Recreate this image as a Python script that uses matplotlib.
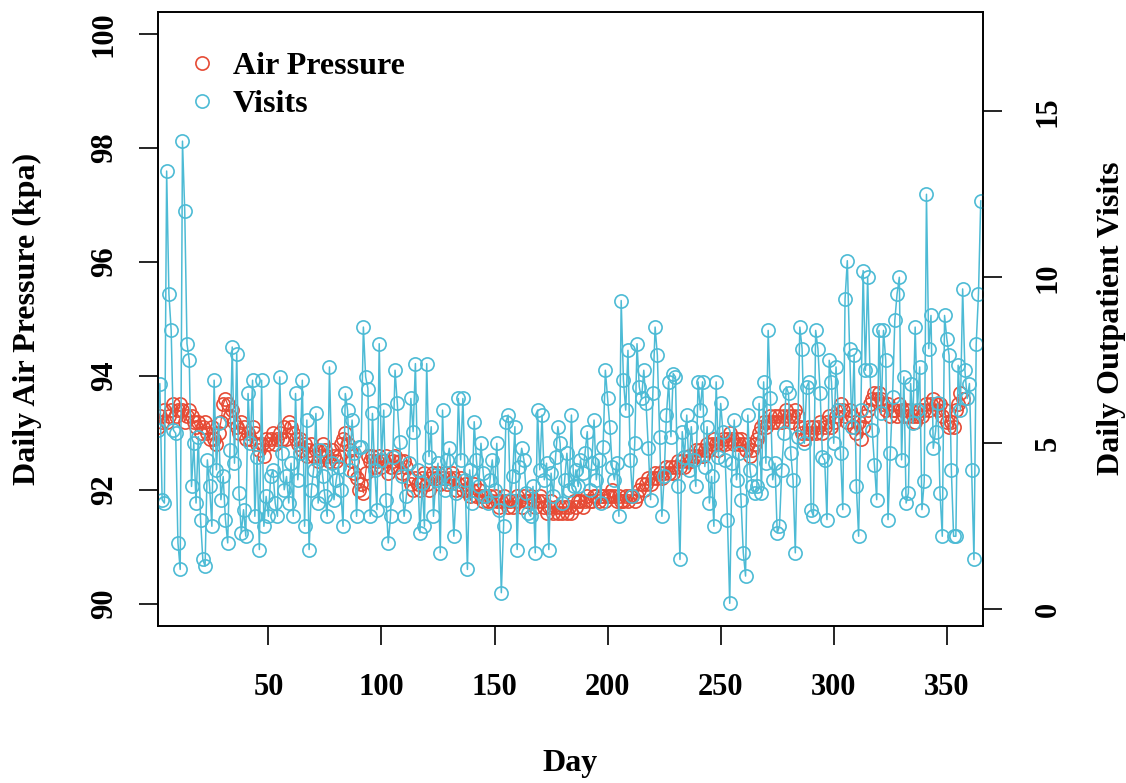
import numpy as np
import matplotlib
matplotlib.use('Agg')
import matplotlib.pyplot as plt
from matplotlib.lines import Line2D


# daily outpatient visits, day 1..365
visits = [5.4, 6.8, 3.3, 3.2, 13.2, 9.5, 8.4, 5.4, 5.3, 2.0,
          1.2, 14.1, 12.0, 8.0, 7.5, 3.7, 5.0, 3.2, 5.2, 2.7,
          1.5, 1.3, 4.5, 3.7, 2.5, 6.9, 4.2, 5.6, 3.3, 4.0,
          2.7, 2.0, 4.8, 7.9, 4.4, 7.7, 3.5, 2.3, 3.0, 2.2,
          6.5, 5.0, 6.9, 2.8, 4.6, 1.8, 6.9, 2.5, 3.4, 2.8,
          4.0, 4.2, 3.2, 2.8, 7.0, 4.7, 3.6, 4.0, 3.2, 4.4,
          2.8, 6.5, 3.9, 4.7, 6.9, 2.5, 5.7, 1.8, 3.6, 4.2,
          5.9, 3.2, 4.8, 4.0, 3.4, 2.8, 7.3, 4.4, 3.3, 3.9,
          4.3, 3.6, 2.5, 6.5, 6.0, 4.2, 5.7, 4.7, 2.8, 4.9,
          4.9, 8.5, 7.0, 6.65, 2.8, 5.9, 4.2, 3.0, 8.0, 4.5,
          6.0, 3.3, 2.0, 2.8, 4.6, 7.2, 6.2, 5.05, 4.0, 2.8,
          3.4, 4.4, 6.35, 5.35, 7.4, 4.2, 2.3, 3.8, 2.5, 7.4,
          4.6, 5.5, 2.8, 3.9, 4.4, 1.7, 6.0, 3.6, 4.5, 4.85,
          3.8, 2.2, 3.5, 6.35, 4.5, 6.35, 3.9, 1.2, 4.2, 3.2,
          5.65, 4.5, 3.7, 5.0, 4.1, 3.4, 3.2, 3.9, 4.5, 3.6,
          5.0, 3.0, 0.5, 2.5, 5.65, 5.85, 3.3, 4.0, 5.5, 1.8,
          4.3, 4.85, 4.5, 3.5, 2.9, 2.8, 3.7, 1.7, 6.0, 4.2,
          5.85, 3.9, 4.4, 1.8, 4.1, 3.4, 4.6, 5.5, 5.0, 3.2,
          3.9, 4.7, 3.6, 5.85, 3.7, 4.2, 3.7, 4.5, 4.1, 4.7,
          5.35, 3.6, 4.4, 5.7, 3.9, 4.5, 3.2, 4.9, 7.2, 6.35,
          5.5, 4.3, 3.9, 4.4, 2.8, 9.3, 6.9, 6.0, 7.8, 4.5,
          3.4, 5.0, 8.0, 6.7, 6.35, 7.2, 6.2, 4.85, 3.3, 6.5,
          8.5, 7.65, 5.2, 2.8, 4.0, 5.85, 6.85, 5.2, 7.1, 7.0,
          3.7, 1.5, 5.35, 4.6, 5.85, 4.2, 5.5, 4.5, 3.7, 6.85,
          6.0, 6.85, 4.3, 5.5, 3.2, 4.0, 2.5, 6.85, 4.6, 6.2,
          5.35, 4.5, 2.7, 0.18, 4.4, 5.7, 3.9, 4.7, 3.3, 1.7,
          1.0, 5.85, 4.2, 3.7, 3.5, 3.7, 6.2, 3.5, 6.85, 4.4,
          8.4, 6.35, 3.9, 4.4, 2.3, 2.5, 4.2, 5.3, 6.7, 6.5,
          4.7, 3.9, 1.7, 5.2, 8.5, 7.85, 5.0, 6.7, 6.85, 3.0,
          2.8, 8.4, 7.85, 6.5, 4.6, 4.5, 2.7, 7.5, 6.85, 5.0,
          7.3, 6.0, 4.7, 3.0, 9.35, 10.5, 7.85, 5.5, 7.65, 3.7,
          2.2, 6.0, 10.2, 7.2, 10.0, 7.2, 5.4, 4.35, 3.3, 8.4,
          5.9, 8.4, 7.5, 2.7, 4.7, 6.4, 8.7, 9.5, 10.0, 4.5,
          7.0, 3.2, 3.5, 6.8, 5.6, 8.5, 6.0, 7.3, 3.0, 3.85,
          12.5, 7.85, 8.85, 4.85, 5.35, 6.2, 3.5, 2.2, 8.85, 8.15,
          7.65, 4.2, 2.2, 2.2, 7.35, 6.0, 9.65, 7.2, 6.35, 6.8,
          4.2, 1.5, 8.0, 9.5, 12.3]

# daily air pressure (kpa), red series stops before the end of the year
pressure = [93.1, 93.3, 93.2, 93.4, 93.2, 93.3, 93.4, 93.5, 93.3, 93.4,
            93.5, 93.4, 93.2, 93.3, 93.4, 93.3, 93.2, 93.1, 93.2, 93.0,
            93.1, 93.2, 93.0, 92.9, 93.1, 92.9, 92.8, 93.0, 93.2, 93.5,
            93.6, 93.5, 93.3, 93.4, 93.2, 93.1, 93.0, 93.2, 93.1, 92.9,
            93.0, 92.9, 93.1, 93.0, 92.8, 92.7, 92.8, 92.6, 92.9, 92.8,
            92.9, 93.0, 92.8, 92.9, 93.0, 92.9, 93.1, 92.9, 93.2, 93.1,
            93.0, 92.9, 92.8, 92.9, 92.7, 92.8, 92.6, 92.7, 92.8, 92.6,
            92.7, 92.5, 92.6, 92.8, 92.7, 92.6, 92.5, 92.7, 92.6, 92.5,
            92.6, 92.8, 92.9, 93.0, 92.8, 92.7, 92.5, 92.3, 92.2, 92.0,
            92.1, 91.95, 92.3, 92.6, 92.5, 92.6, 92.4, 92.5, 92.6, 92.4,
            92.5, 92.6, 92.3, 92.4, 92.5, 92.6, 92.4, 92.5, 92.3, 92.5,
            92.4, 92.2, 92.1, 92.0, 92.2, 92.1, 92.0, 92.2, 92.3, 92.1,
            92.0, 92.2, 92.3, 92.2, 92.3, 92.1, 92.2, 92.3, 92.1, 92.2,
            92.3, 92.2, 92.0, 92.1, 92.2, 92.0, 92.1, 92.0, 91.9, 92.0,
            92.1, 91.9, 92.0, 91.9, 91.8, 91.9, 91.8, 91.9, 91.8, 91.9,
            91.8, 91.7, 91.8, 91.9, 91.8, 91.7, 91.8, 91.7, 91.8, 91.9,
            91.8, 91.7, 91.9, 91.8, 91.8, 91.9, 91.8, 91.7, 91.8, 91.9,
            91.8, 91.7, 91.6, 91.7, 91.8, 91.6, 91.7, 91.6, 91.7, 91.6,
            91.7, 91.6, 91.7, 91.6, 91.8, 91.7, 91.8, 91.8, 91.7, 91.8,
            91.9, 91.8, 91.8, 91.9, 91.9, 91.8, 91.9, 91.9, 91.8, 91.9,
            91.9, 92.0, 91.9, 91.8, 91.9, 91.8, 91.8, 91.9, 91.8, 91.9,
            91.9, 91.8, 91.9, 92.0, 92.1, 92.0, 92.1, 92.2, 92.1, 92.2,
            92.3, 92.2, 92.3, 92.2, 92.3, 92.4, 92.3, 92.4, 92.3, 92.4,
            92.5, 92.4, 92.5, 92.4, 92.5, 92.6, 92.5, 92.6, 92.7, 92.6,
            92.7, 92.6, 92.7, 92.8, 92.7, 92.8, 92.9, 92.8, 92.7, 92.8,
            92.9, 92.8, 92.9, 93.0, 92.9, 92.8, 92.9, 92.8, 92.9, 92.8,
            92.7, 92.8, 92.6, 92.7, 92.8, 92.9, 93.0, 93.1, 93.2, 93.1,
            93.2, 93.3, 93.2, 93.3, 93.2, 93.3, 93.2, 93.3, 93.4, 93.3,
            93.2, 93.3, 93.4, 93.3, 93.1, 93.0, 92.9, 93.0, 93.1, 93.0,
            93.1, 93.0, 93.1, 93.2, 93.0, 93.1, 93.2, 93.3, 93.1, 93.2,
            93.3, 93.4, 93.5, 93.4, 93.3, 93.2, 93.4, 93.3, 93.1, 93.0,
            93.2, 92.9, 93.1, 93.3, 93.4, 93.5, 93.6, 93.7, 93.6, 93.7,
            93.6, 93.5, 93.4, 93.5, 93.3, 93.4, 93.4, 93.3, 93.5, 93.4,
            93.3, 93.4, 93.3, 93.4, 93.3, 93.2, 93.3, 93.4, 93.3, 93.4,
            93.5, 93.4, 93.5, 93.6, 93.5, 93.4, 93.5, 93.3, 93.4, 93.2,
            93.1, 93.2, 93.1, 93.4, 93.5, 93.7, 93.6]

days = np.arange(1, len(visits) + 1)
x_ticks = [50, 100, 150, 200, 250, 300, 350]
p_ticks = [90, 92, 94, 96, 98, 100]
v_ticks = [0, 5, 10, 15]
legend_labels = ['Air Pressure', 'Visits']

red = '#E64B35'
blue = '#4DBBD5'

plt.rcParams['font.family'] = ['Liberation Serif', 'DejaVu Serif']
plt.rcParams['font.weight'] = 'bold'

W, H = 1126, 783
fig = plt.figure(figsize=(W / 100, H / 100), dpi=100)
ax = fig.add_axes([157.6 / W, 1 - 626 / H, (983 - 157.6) / W, (626 - 12) / H])

ax.plot(days[:len(pressure)], pressure, '-o', color=red, mfc='none',
        ms=9.5, mew=1.2, lw=0.9)
ax.set_xlim(1, 366)
ax.set_ylim(89.61, 100.39)
ax.set_xticks(x_ticks)
ax.set_yticks(p_ticks)
ax.tick_params(direction='out', length=14, width=1.2, labelsize=22)
ax.tick_params(axis='x', pad=19.5)
ax.tick_params(axis='y', pad=14)
for lab in ax.get_yticklabels():
    lab.set_rotation(90)
    lab.set_va('center')

ax2 = ax.twinx()
ax2.plot(days, visits, '-o', color=blue, mfc='none', ms=9.5, mew=1.2, lw=1.1)
ax2.set_ylim(-0.503, 17.99)
ax2.set_yticks(v_ticks)
ax2.tick_params(direction='out', length=14, width=1.2, labelsize=22, pad=22.5)
for lab in ax2.get_yticklabels():
    lab.set_rotation(90)
    lab.set_va('center')

for a in (ax, ax2):
    for s in a.spines.values():
        s.set_linewidth(1.2)

# axis titles
fig.text(570 / W, 1 - 763 / H, 'Day', ha='center', va='center', fontsize=23)
fig.text(27 / W, 1 - 319 / H, 'Daily Air Pressure (kpa)', rotation=90,
         ha='center', va='center', fontsize=23)
fig.text(1112 / W, 1 - 318 / H, 'Daily Outpatient Visits', rotation=90,
         ha='center', va='center', fontsize=23)

# legend
for i, (lab, col) in enumerate(zip(legend_labels, [red, blue])):
    yc = 63 + 38 * i
    fig.add_artist(Line2D([201.7 / W], [1 - yc / H], transform=fig.transFigure,
                          ls='none', marker='o', mfc='none', color=col,
                          ms=9.5, mew=1.2))
    fig.text(232.7 / W, 1 - (yc + 11) / H, lab, ha='left', va='baseline',
             fontsize=23)

fig.savefig('out.png', dpi=100)
